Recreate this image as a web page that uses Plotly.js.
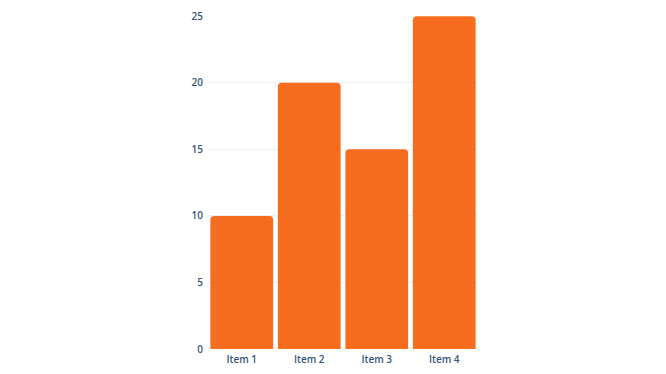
<!DOCTYPE html>
<html><head><meta charset="utf-8">
<script src="https://cdn.plot.ly/plotly-3.0.1.min.js"></script>
<style>html,body{margin:0;padding:0;background:#fff}#chart{width:666px;height:374px}</style>
</head><body><div id="chart"></div>
<script>
const categories = ["Item 1", "Item 2", "Item 3", "Item 4"];
const values = [10, 20, 15, 25];
const yTicks = [0, 5, 10, 15, 20, 25];

Plotly.newPlot('chart', [{
  type: 'bar', x: categories, y: values,
  marker: {color: '#f76d1f'},
  hoverinfo: 'x+y'
}], {
  width: 666, height: 374,
  margin: {l: 208, r: 188, t: 16, b: 25},
  paper_bgcolor: '#fff', plot_bgcolor: '#fff',
  bargap: 0.07,
  barcornerradius: 4,
  showlegend: false,
  font: {family: 'Open Sans, sans-serif', size: 10, color: '#34557a', weight: 600},
  xaxis: {showgrid: false, zeroline: false, showline: false, ticks: '', ticklabelstandoff: 3, tickfont: {size: 10, color: '#34557a', weight: 600}},
  yaxis: {range: [0, 25.02], tickvals: yTicks, showgrid: true, gridcolor: '#eef1f4', gridwidth: 1, zeroline: false, showline: false, ticks: '', ticklabelstandoff: 4, tickfont: {size: 10, color: '#34557a', weight: 600}}
}, {displayModeBar: false, staticPlot: true});
</script></body></html>
